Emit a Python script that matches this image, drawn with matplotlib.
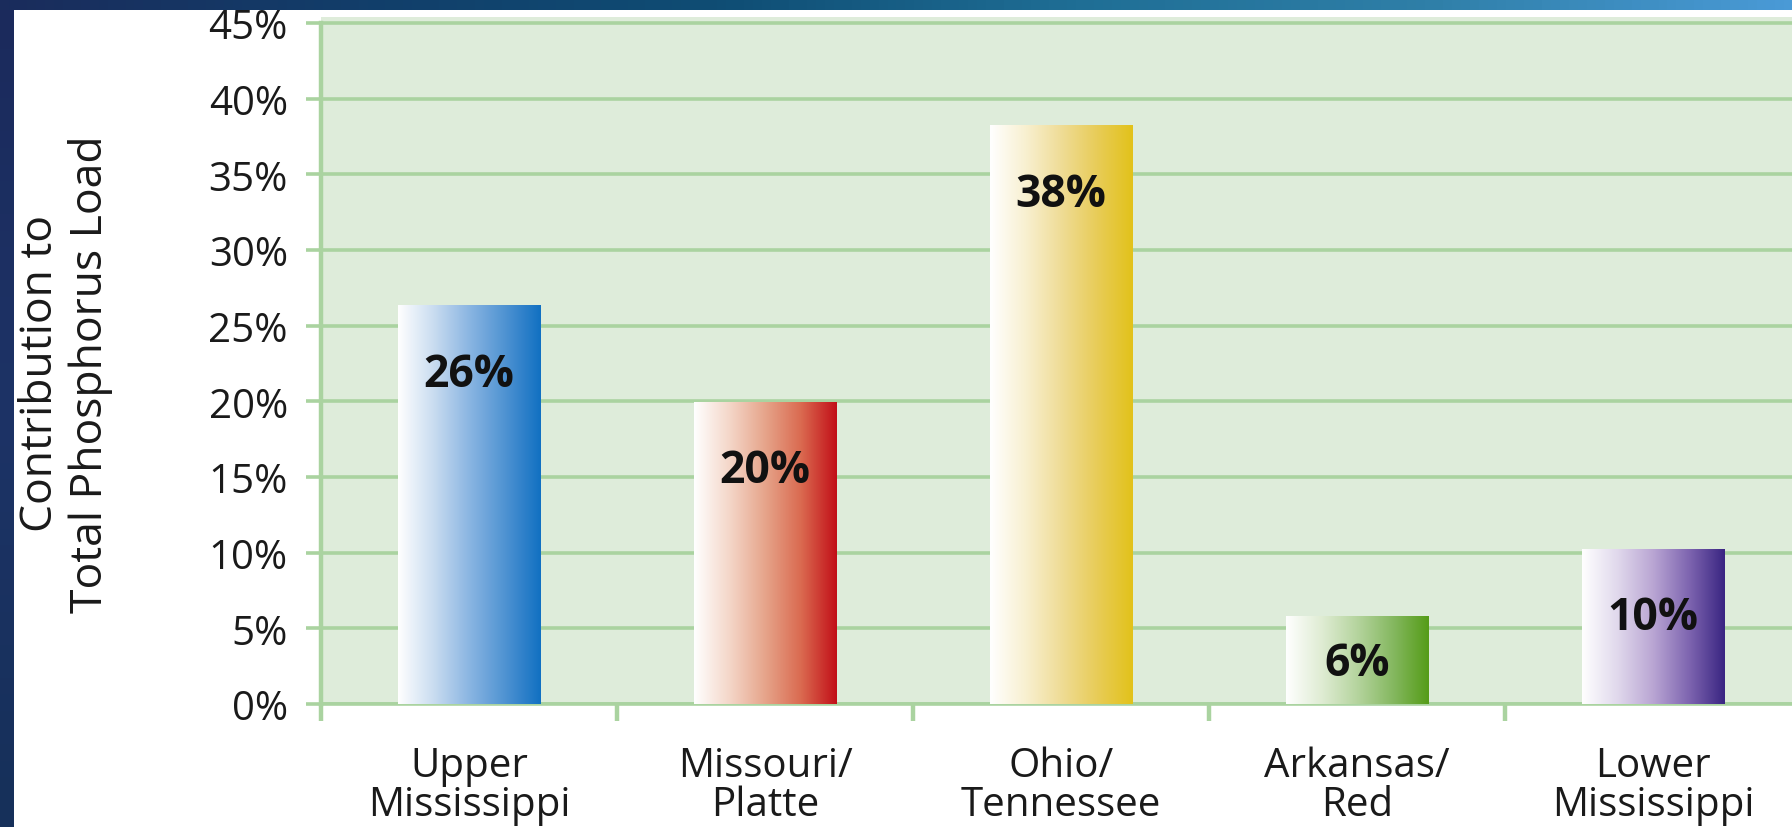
import matplotlib
matplotlib.use("Agg")
import matplotlib.pyplot as plt
import numpy as np
from matplotlib.colors import LinearSegmentedColormap

# ---- data ----
categories = ["Upper\nMississippi", "Missouri/\nPlatte", "Ohio/\nTennessee", "Arkansas/\nRed", "Lower\nMississippi"]
values = [26.3, 19.9, 38.2, 5.8, 10.2]
value_labels = ["26%", "20%", "38%", "6%", "10%"]
bar_gradients = [
    ["#ffffff", "#c9dcf0", "#8ab5e2", "#4f93d2", "#1170c2"],
    ["#ffffff", "#f4d6c8", "#e6a48a", "#da6a50", "#c20f18"],
    ["#ffffff", "#f8f0d0", "#efdc96", "#e8cc58", "#e2c21a"],
    ["#ffffff", "#dfecd3", "#b5d49e", "#85b860", "#559c18"],
    ["#ffffff", "#e0d8ec", "#b9a5d3", "#7e65b0", "#3a2582"],
]
yticks = [0, 5, 10, 15, 20, 25, 30, 35, 40, 45]
ytick_labels = ["0%", "5%", "10%", "15%", "20%", "25%", "30%", "35%", "40%", "45%"]
ylabel = "Contribution to\nTotal Phosphorus Load"

FONT = ["Open Sans", "DejaVu Sans"]
plt.rcParams["font.family"] = FONT

W, H, DPI = 1792, 828, 100
fig = plt.figure(figsize=(W / DPI, H / DPI), dpi=DPI, facecolor="white")

# dark frame strips (left & top)
left_ax = fig.add_axes([0, 0, 13 / W, 1])
left_ax.imshow(np.linspace(0, 1, 50).reshape(-1, 1),
               cmap=LinearSegmentedColormap.from_list("l", ["#1b2a5c", "#1d3366", "#16305a"]),
               aspect="auto", extent=[0, 1, 0, 1])
left_ax.axis("off")
top_ax = fig.add_axes([0, 1 - 11 / H, 1, 11 / H])
top_ax.imshow(np.linspace(0, 1, 200).reshape(1, -1),
              cmap=LinearSegmentedColormap.from_list(
                  "t", ["#1a2c5c", "#123e6a", "#0f4d74", "#1f6e95", "#2f7fa8", "#4a9ad6"]),
              aspect="auto", extent=[0, 1, 0, 1])
top_ax.axis("off")

# main axes
grid_c = "#aad3a0"
px_per_pct = (705 - 24) / 45.0
ax_left = 321 / W
ax_bottom = 1 - 705 / H
ax_top_px = 18
ax = fig.add_axes([ax_left, ax_bottom, 1 - ax_left, (705 - ax_top_px) / H])
ax.set_facecolor("#deecda")
ytop = 45 + (24 - ax_top_px) / px_per_pct
xright = -0.5 + (W - 321) / 296.0
ax.set_xlim(-0.5, xright)
ax.set_ylim(0, ytop)

x = np.arange(len(categories))
bw = 0.48
bars = ax.bar(x, values, width=bw, color="none", edgecolor="none", zorder=3)
for b, stops in zip(bars, bar_gradients):
    x0, x1 = b.get_x(), b.get_x() + b.get_width()
    cmap = LinearSegmentedColormap.from_list("g", stops)
    ax.imshow(np.linspace(0, 1, 256).reshape(1, -1), cmap=cmap, aspect="auto",
              extent=[x0, x1, 0, b.get_height()], zorder=3, interpolation="bilinear")
ax.set_xlim(-0.5, xright)
ax.set_ylim(0, ytop)

for xi, v, lab in zip(x, values, value_labels):
    ly = max(v - 4.5, v * 0.46)
    ax.text(xi, ly, lab, ha="center", va="center", fontsize=32, fontweight="bold",
            color="#111111", zorder=4)

# grid & spines
ax.set_yticks(yticks)
ax.set_yticklabels(ytick_labels)
ax.yaxis.grid(True, color=grid_c, linewidth=2.6, zorder=1)
ax.set_axisbelow(True)
for s in ["top", "right"]:
    ax.spines[s].set_visible(False)
ax.spines["left"].set_color(grid_c)
ax.spines["left"].set_linewidth(3.2)
ax.spines["left"].set_bounds(0, 45)
ax.spines["bottom"].set_color(grid_c)
ax.spines["bottom"].set_linewidth(2.6)
ax.tick_params(axis="y", direction="out", length=15 * 0.72, width=2.6, color=grid_c,
               labelsize=29, labelcolor="#1a1a1a", pad=13)

# category boundaries as ticks, labels at centers
ax.set_xticks(np.arange(-0.5, xright, 1.0))
ax.set_xticklabels([])
ax.set_xticks(x, minor=True)
ax.set_xticklabels(categories, minor=True, fontsize=29, color="#1a1a1a", linespacing=0.95)
ax.tick_params(axis="x", which="major", direction="out", length=17 * 0.72, width=3.2, color=grid_c)
ax.tick_params(axis="x", which="minor", length=0, pad=30)

fig.text(66 / W, 1 - 374 / H, ylabel, rotation=90, ha="center", va="center",
         fontsize=32, color="#1a1a1a", linespacing=1.15)

fig.savefig("out.png", dpi=DPI, facecolor="white")
